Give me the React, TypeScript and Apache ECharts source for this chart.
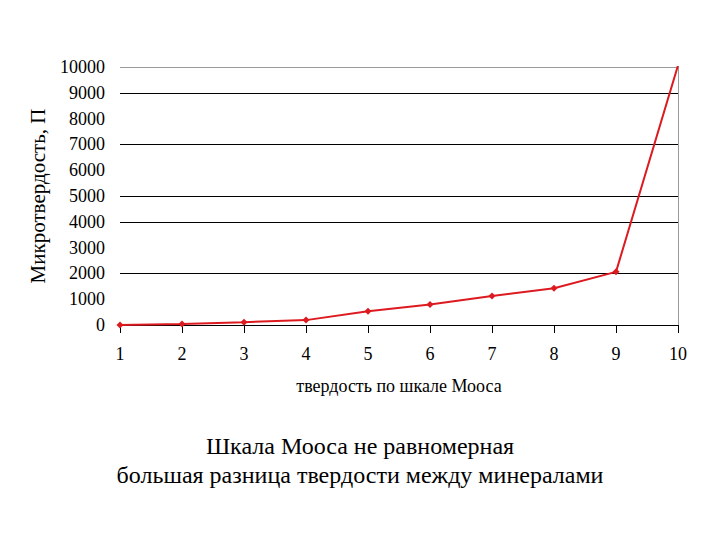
import React, { useEffect, useRef } from "react";
import * as echarts from "echarts";

const categories = ["1", "2", "3", "4", "5", "6", "7", "8", "9", "10"];
const microhardness = [2.4, 36, 109, 189, 536, 795, 1120, 1427, 2060, 10060];
const yTicks = [0, 1000, 2000, 3000, 4000, 5000, 6000, 7000, 8000, 9000, 10000];
const titleLines = ["Шкала Мооса не равномерная", "большая разница твердости между минералами"];
const xAxisName = "твердость по шкале Мооса";
const yAxisName = "Микротвердость, П";

const FONT = "Liberation Serif";

export default function App() {
  const ref = useRef<HTMLDivElement>(null);
  useEffect(() => {
    if (!ref.current) return;
    const chart = echarts.init(ref.current, undefined, { renderer: "svg" });
    const gridColors = yTicks.map((v) =>
      v === 10000 ? "#9a9a9a" : [2000, 4000, 5000, 7000, 9000].includes(v) ? "#000" : "rgba(0,0,0,0)"
    );
    chart.setOption({
      animation: false,
      backgroundColor: "#fff",
      textStyle: { fontFamily: FONT },
      title: {
        text: titleLines.join("\n"),
        left: "center",
        top: 426,
        textStyle: { fontFamily: FONT, fontSize: 24, fontWeight: "normal", color: "#000", lineHeight: 29 },
      },
      grid: { left: 120, right: 42, top: 67, bottom: 215, containLabel: false },
      xAxis: {
        type: "category",
        data: categories,
        boundaryGap: false,
        name: xAxisName,
        nameLocation: "middle",
        nameGap: 52,
        nameTextStyle: { fontFamily: FONT, fontSize: 18, color: "#000" },
        axisLine: { lineStyle: { color: "#000", width: 1 } },
        axisTick: { show: true, alignWithLabel: true, length: 8, lineStyle: { color: "#000" } },
        axisLabel: { fontFamily: FONT, fontSize: 18, color: "#000", margin: 20 },
        splitLine: { show: false },
      },
      yAxis: [
        {
          type: "value",
          min: 0,
          max: 10000,
          interval: 1000,
          name: yAxisName,
          nameLocation: "middle",
          nameGap: 72,
          nameTextStyle: { fontFamily: FONT, fontSize: 21, color: "#000" },
          axisLine: { show: false },
          axisTick: { show: false },
          axisLabel: {
            fontFamily: FONT,
            fontSize: 18,
            color: "#000",
            margin: 15,
            formatter: (v: number) => String(v),
          },
          splitLine: { show: true, lineStyle: { color: gridColors, width: 1 } },
        },
        {
          type: "value",
          min: 0,
          max: 10000,
          interval: 1000,
          position: "right",
          axisLine: { show: true, lineStyle: { color: "#9a9a9a" } },
          axisTick: { show: false },
          axisLabel: { show: false },
          splitLine: { show: false },
        },
      ],
      series: [
        {
          type: "line",
          data: microhardness,
          symbol: "diamond",
          symbolSize: 7,
          lineStyle: { color: "#dc1a1f", width: 2 },
          itemStyle: { color: "#dc1a1f" },
        },
      ],
    });
    return () => chart.dispose();
  }, []);
  return (
    <div
      ref={ref}
      style={{ position: "fixed", left: 0, top: 0, width: 720, height: 540, background: "#fff" }}
    />
  );
}
